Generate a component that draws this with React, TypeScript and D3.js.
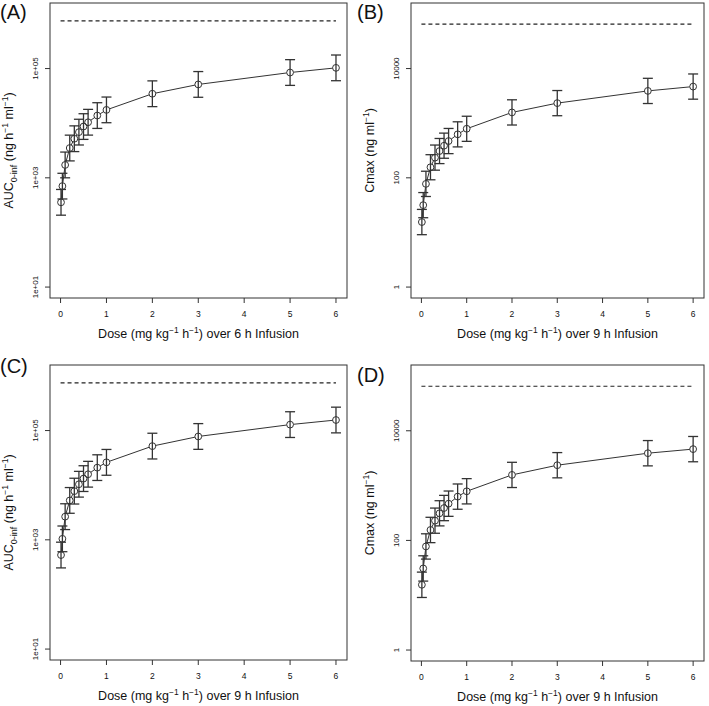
import React from "react";
import * as d3 from "d3";

// ---------- data ----------
const doses = [0.01, 0.04, 0.1, 0.2, 0.3, 0.4, 0.5, 0.6, 0.8, 1, 2, 3, 5, 6];
const xTicks = [0, 1, 2, 3, 4, 5, 6];

const aucA = [356, 705, 1720, 3510, 5190, 6860, 8690, 10400, 13800, 17500, 34600, 51200, 84600, 103000];
const aucALo = [207, 410, 1000, 2040, 3020, 3990, 5050, 6050, 8020, 10200, 20100, 29800, 49200, 59900];
const aucAHi = [612, 1210, 2960, 6040, 8930, 11800, 14900, 17900, 23700, 30100, 59500, 88100, 145500, 177000];

const cmaxB = [15.5, 31.6, 77.4, 156, 234, 309, 387, 471, 625, 791, 1574, 2330, 3900, 4680];
const cmaxBLo = [9.1, 18.6, 45.5, 92, 138, 182, 228, 277, 368, 465, 926, 1370, 2290, 2750];
const cmaxBHi = [26.4, 53.7, 132, 265, 398, 525, 658, 801, 1060, 1340, 2680, 3960, 6630, 7960];

const aucC = [526, 1042, 2655, 5260, 7780, 10400, 13200, 15850, 20950, 26200, 51900, 77900, 128500, 156000];
const aucCLo = [306, 606, 1540, 3060, 4520, 6050, 7670, 9220, 12200, 15200, 30200, 45300, 74700, 90700];
const aucCHi = [905, 1790, 4570, 9050, 13400, 17900, 22700, 27300, 36000, 45100, 89300, 134000, 221000, 268000];

const cmaxD = [15.5, 30.8, 77.6, 155, 229, 312, 390, 468, 629, 787, 1567, 2354, 3900, 4630];
const cmaxDLo = [9.1, 18.1, 45.6, 91, 135, 184, 229, 275, 370, 463, 922, 1385, 2290, 2720];
const cmaxDHi = [26.4, 52.4, 132, 264, 389, 530, 663, 796, 1070, 1340, 2660, 4000, 6630, 7870];

const aucTicks = [10, 1000, 100000];
const aucTickLabels = ["1e+01", "1e+03", "1e+05"];
const cmaxTicks = [1, 100, 10000];
const cmaxTickLabels = ["1", "100", "10000"];

const aucLimit = 745000;
const cmaxLimit = 65000;

const panelLetters = ["(A)", "(B)", "(C)", "(D)"];
const infusionHours = ["6", "9", "9", "9"];

// ---------- styles ----------
const FONT = "'Liberation Sans', Arial, Helvetica, sans-serif";
const INK = "#333";

type Box = { left: number; right: number; top: number; bottom: number };

function Panel(props: {
  box: Box;
  yDomain: [number, number];
  mean: number[];
  lo: number[];
  hi: number[];
  yTicks: number[];
  yTickLabels: string[];
  limit: number;
  letter: string;
  letterPos: [number, number];
  isAuc: boolean;
  hours: string;
}) {
  const { box, yDomain, mean, lo, hi, yTicks, yTickLabels, limit, letter, letterPos, isAuc, hours } = props;
  const x = d3.scaleLinear().domain([-0.23, 6.24]).range([box.left, box.right]);
  const y = d3.scaleLog().domain(yDomain).range([box.bottom, box.top]);
  const r = 3.4;
  const cap = 5;

  const pts = doses.map((d, i) => [x(d), y(mean[i])] as [number, number]);
  const segs: string[] = [];
  for (let i = 0; i < pts.length - 1; i++) {
    const [x1, y1] = pts[i];
    const [x2, y2] = pts[i + 1];
    const dx = x2 - x1, dy = y2 - y1;
    const dist = Math.hypot(dx, dy);
    if (dist <= 2 * r) continue;
    const ux = dx / dist, uy = dy / dist;
    segs.push(`M${x1 + ux * r},${y1 + uy * r}L${x2 - ux * r},${y2 - uy * r}`);
  }

  const cx = (box.left + box.right) / 2;
  const cy = (box.top + box.bottom) / 2;
  const yTitleX = box.left - 37;

  return (
    <g>
      <text x={letterPos[0]} y={letterPos[1]} fontSize={20} fontFamily={FONT} fill="#111">
        {letter}
      </text>
      <rect x={box.left} y={box.top} width={box.right - box.left} height={box.bottom - box.top}
        fill="none" stroke={INK} strokeWidth={1} />
      {/* x axis */}
      {xTicks.map((t) => (
        <g key={"xt" + t}>
          <line x1={x(t)} x2={x(t)} y1={box.bottom} y2={box.bottom + 5} stroke={INK} />
          <text x={x(t)} y={box.bottom + 19} fontSize={8.5} textAnchor="middle" fontFamily={FONT} fill="#111">
            {t}
          </text>
        </g>
      ))}
      {/* y axis */}
      {yTicks.map((t, i) => (
        <g key={"yt" + t}>
          <line x1={box.left - 5} x2={box.left} y1={y(t)} y2={y(t)} stroke={INK} />
          <text transform={`translate(${box.left - 12},${y(t)}) rotate(-90)`} fontSize={8}
            textAnchor="middle" fontFamily={FONT} fill="#111">
            {yTickLabels[i]}
          </text>
        </g>
      ))}
      {/* x title */}
      <text x={cx} y={box.bottom + 40} fontSize={12.5} textAnchor="middle" fontFamily={FONT} fill="#111">
        Dose (mg kg<tspan dy={-5} fontSize={8.5}>−1</tspan>
        <tspan dy={5}> h</tspan><tspan dy={-5} fontSize={8.5}>−1</tspan>
        <tspan dy={5}>) over {hours} h Infusion</tspan>
      </text>
      {/* y title */}
      <text transform={`translate(${yTitleX},${cy}) rotate(-90)`} fontSize={12.5} textAnchor="middle"
        fontFamily={FONT} fill="#111">
        {isAuc ? (
          <>
            AUC<tspan dy={3.5} fontSize={9}>0-inf</tspan>
            <tspan dy={-3.5}> (ng h</tspan><tspan dy={-5} fontSize={8.5}>−1</tspan>
            <tspan dy={5}> ml</tspan><tspan dy={-5} fontSize={8.5}>−1</tspan>
            <tspan dy={5}>)</tspan>
          </>
        ) : (
          <>
            Cmax (ng ml<tspan dy={-5} fontSize={8.5}>−1</tspan>
            <tspan dy={5}>)</tspan>
          </>
        )}
      </text>
      {/* reference dashed line */}
      <line x1={x(0)} x2={x(6)} y1={y(limit)} y2={y(limit)} stroke="#222" strokeWidth={1.1}
        strokeDasharray="4,3" />
      {/* connecting line */}
      <path d={segs.join("")} stroke={INK} strokeWidth={1} fill="none" />
      {/* error bars */}
      {doses.map((d, i) => (
        <g key={"eb" + i} stroke={INK} strokeWidth={1.3}>
          <line x1={x(d)} x2={x(d)} y1={y(lo[i])} y2={y(hi[i])} />
          <line x1={x(d) - cap} x2={x(d) + cap} y1={y(lo[i])} y2={y(lo[i])} />
          <line x1={x(d) - cap} x2={x(d) + cap} y1={y(hi[i])} y2={y(hi[i])} />
        </g>
      ))}
      {/* points */}
      {pts.map((p, i) => (
        <circle key={"pt" + i} cx={p[0]} cy={p[1]} r={r} fill="none" stroke={INK} strokeWidth={1} />
      ))}
    </g>
  );
}

export default function App() {
  const aucDomain: [number, number] = [Math.pow(10, 0.8), Math.pow(10, 6.2)];
  const cmaxDomain: [number, number] = [Math.pow(10, -0.2), Math.pow(10, 5.2)];
  return (
    <svg width={709} height={706} style={{ position: "absolute", left: 0, top: 0, background: "#fff" }}>
      <rect x={0} y={0} width={709} height={706} fill="#fff" />
      <Panel box={{ left: 50, right: 347, top: 3, bottom: 298 }} yDomain={aucDomain}
        mean={aucA} lo={aucALo} hi={aucAHi} yTicks={aucTicks} yTickLabels={aucTickLabels}
        limit={aucLimit} letter={panelLetters[0]} letterPos={[0, 19]} isAuc={true} hours={infusionHours[0]} />
      <Panel box={{ left: 411, right: 704, top: 3, bottom: 298 }} yDomain={cmaxDomain}
        mean={cmaxB} lo={cmaxBLo} hi={cmaxBHi} yTicks={cmaxTicks} yTickLabels={cmaxTickLabels}
        limit={cmaxLimit} letter={panelLetters[1]} letterPos={[357, 19]} isAuc={false} hours={infusionHours[1]} />
      <Panel box={{ left: 50, right: 347, top: 365, bottom: 660 }} yDomain={aucDomain}
        mean={aucC} lo={aucCLo} hi={aucCHi} yTicks={aucTicks} yTickLabels={aucTickLabels}
        limit={aucLimit} letter={panelLetters[2]} letterPos={[0, 373]} isAuc={true} hours={infusionHours[2]} />
      <Panel box={{ left: 411, right: 704, top: 365, bottom: 661 }} yDomain={cmaxDomain}
        mean={cmaxD} lo={cmaxDLo} hi={cmaxDHi} yTicks={cmaxTicks} yTickLabels={cmaxTickLabels}
        limit={cmaxLimit} letter={panelLetters[3]} letterPos={[357, 382]} isAuc={false} hours={infusionHours[3]} />
    </svg>
  );
}
